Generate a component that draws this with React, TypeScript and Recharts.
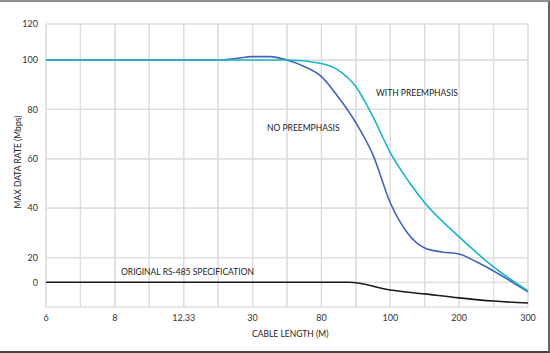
import React from "react";
import { CartesianGrid, Line, LineChart, ReferenceLine, XAxis, YAxis } from "recharts";

// x positions are grid-column indexes (15 gridlines, labels on every other one)
const X_TICKS = [0, 1, 2, 3, 4, 5, 6, 7, 8, 9, 10, 11, 12, 13, 14];
const X_LABELS: Record<number, string> = {
    0: "6",
    2: "8",
    4: "12.33",
    6: "30",
    8: "80",
    10: "100",
    12: "200",
    14: "300",
};

// y axis as drawn: uneven labels on an even grid
const Y_TICKS = [10, 20, 40, 60, 80, 100, 114.6];
const Y_LABELS = ["0", "20", "40", "60", "80", "100", "120"];

const WITH_X = [0, 2, 4, 6, 7, 8, 8.5, 8.75, 9, 9.25, 9.5, 10, 10.5, 11, 12, 13, 14];
const WITH_Y = [100, 100, 100, 100, 100, 98.6, 95.8, 93, 89.3, 83.5, 77, 62.5, 51.5, 42.2, 28.4, 16.2, 6.5];

const NO_X = [0, 2, 4, 5, 5.5, 6, 6.5, 7, 7.5, 8, 8.5, 9, 9.5, 10, 10.5, 11, 11.5, 12, 12.5, 13, 14];
const NO_Y = [100, 100, 100, 100, 100.6, 101.4, 101.4, 100, 97.4, 93.3, 84.8, 74.6, 61.5, 42.2, 30, 23.9, 22.3, 21.5, 18.3, 14.6, 6.1];

const RS485_X = [0, 4, 8, 8.8, 10, 11, 12, 13, 14];
const RS485_Y = [10, 10, 10, 10, 6.9, 5.3, 3.7, 2.4, 1.6];

const toPoints = (xs: number[], ys: number[]) => xs.map((x, i) => ({ x, y: ys[i] }));

const FONT = "Lato, 'Open Sans', sans-serif";
const GRID = "#dddddd";

const note = (left: number, top: number): React.CSSProperties => ({
    position: "absolute",
    left,
    top,
    fontFamily: FONT,
    fontSize: 8.5,
    color: "#222",
    whiteSpace: "nowrap",
});

export default function App() {
    return (
        <div
            style={{
                position: "absolute",
                left: 0,
                top: 0,
                width: 550,
                height: 353,
                background: "#fff",
                boxSizing: "border-box",
                borderTop: "2px solid #8f8f8f",
                borderRight: "2px solid #666",
                borderBottom: "2px solid #444",
            }}
        >
            <div style={{ position: "absolute", left: 0, top: -2 }}>
                <LineChart
                    width={550}
                    height={353}
                    data={toPoints(WITH_X, WITH_Y)}
                    margin={{ top: 24, right: 22, left: 10, bottom: 26 }}
                >
                    <CartesianGrid stroke={GRID} strokeWidth={1.2} />
                    {X_TICKS.map((x) => (
                        <ReferenceLine key={`vx${x}`} x={x} stroke={GRID} strokeWidth={1.2} ifOverflow="visible" />
                    ))}
                    {[0, ...Y_TICKS].map((y) => (
                        <ReferenceLine key={`hy${y}`} y={y} stroke={GRID} strokeWidth={1.2} ifOverflow="visible" />
                    ))}
                    <XAxis
                        type="number"
                        dataKey="x"
                        domain={[0, 14]}
                        ticks={X_TICKS}
                        interval={0}
                        height={20}
                        tickFormatter={(v: number) => X_LABELS[v] ?? ""}
                        tick={{ fill: "#333", fontSize: 9, fontFamily: FONT }}
                        axisLine={false}
                        tickLine={false}
                    />
                    <YAxis
                        type="number"
                        domain={[0, 114.6]}
                        ticks={Y_TICKS}
                        interval={0}
                        width={36}
                        tickFormatter={(v: number) => Y_LABELS[Y_TICKS.indexOf(v)] ?? ""}
                        tick={{ fill: "#333", fontSize: 9, fontFamily: FONT }}
                        axisLine={false}
                        tickLine={false}
                    />
                    <Line
                        data={toPoints(RS485_X, RS485_Y)}
                        dataKey="y"
                        type="monotone"
                        stroke="#1b1b1b"
                        strokeWidth={1.6}
                        dot={false}
                        isAnimationActive={false}
                    />
                    <Line
                        data={toPoints(NO_X, NO_Y)}
                        dataKey="y"
                        type="monotone"
                        stroke="#4464b8"
                        strokeWidth={1.6}
                        dot={false}
                        isAnimationActive={false}
                    />
                    <Line
                        data={toPoints(WITH_X, WITH_Y)}
                        dataKey="y"
                        type="monotone"
                        stroke="#17b6c6"
                        strokeWidth={1.6}
                        dot={false}
                        isAnimationActive={false}
                    />
                </LineChart>
            </div>
            <div style={note(376, 86)}>WITH PREEMPHASIS</div>
            <div style={note(267, 121)}>NO PREEMPHASIS</div>
            <div style={note(121, 265)}>ORIGINAL RS-485 SPECIFICATION</div>
            <div style={note(252, 327)}>CABLE LENGTH (M)</div>
            <div
                style={{
                    ...note(18, 160),
                    transform: "translate(-50%, -50%) rotate(-90deg)",
                }}
            >
                MAX DATA RATE (Mbps)
            </div>
        </div>
    );
}
